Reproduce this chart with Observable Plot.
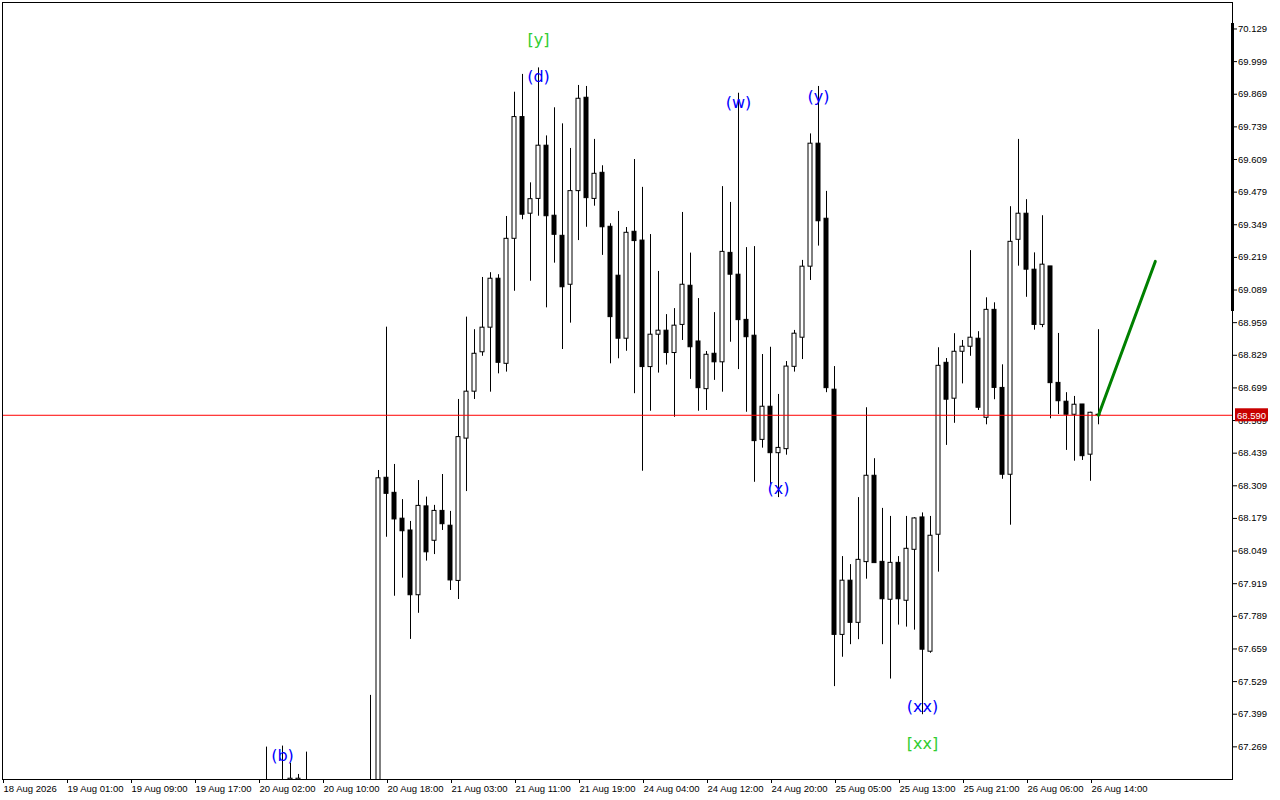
<!DOCTYPE html>
<html><head><meta charset="utf-8">
<script src="https://cdn.jsdelivr.net/npm/d3@7"></script>
<script src="https://cdn.jsdelivr.net/npm/@observablehq/plot@0.6"></script>
<style>html,body{margin:0;padding:0;background:#fff}#chart svg{display:block}</style>
</head><body><div id="chart"></div>
<script>
// Hourly bars (index from 18 Aug 2026 first bar)
const bars = [33,35,36,37,38,46,47,
 48,49,50,51,52,53,54,55,56,57,58,59,60,61,62,63,64,65,66,67,68,69,70,71,72,73,74,75,76,77,78,79,
 80,81,82,83,84,85,86,87,88,89,90,91,92,93,94,95,96,97,98,99,100,101,102,103,104,105,106,107,108,109,
 110,111,112,113,114,115,116,117,118,119,120,121,122,123,124,125,126,127,128,129,130,131,132,133,134,135,136,137];
const opens = [67.05,67.08,67.09,67.10,67.11,67.12,67.10,
 68.341,68.281,68.178,68.131,67.873,68.227,68.090,68.209,68.150,67.930,68.497,68.684,68.841,68.939,69.134,68.795,69.293,69.778,69.393,69.452,69.664,69.385,69.305,69.110,69.483,69.855,69.452,69.556,69.341,69.146,68.895,69.321,
 69.286,68.782,68.911,68.927,68.838,68.950,69.106,68.884,68.694,68.835,68.801,69.237,69.150,68.970,68.907,68.492,68.624,68.439,68.455,68.783,68.899,69.182,69.672,69.373,68.692,67.715,67.931,67.763,68.005,68.349,
 68.006,67.855,68.002,67.851,68.054,68.183,67.648,68.114,68.799,68.656,68.843,68.863,68.895,68.580,69.010,68.699,68.353,69.289,69.393,69.170,68.950,69.183,68.719,68.644,68.592,68.633,68.433,68.592];
const highs = [67.268,67.272,67.203,67.159,67.248,67.474,68.370,
 68.941,68.394,68.254,68.167,68.330,68.264,68.231,68.354,68.207,68.653,68.981,68.931,69.139,69.158,69.150,69.382,69.877,69.948,69.516,69.974,69.703,69.815,69.751,69.653,69.904,69.900,69.689,69.584,69.353,69.402,69.338,69.609,
 69.498,69.310,69.163,68.991,69.015,69.398,69.236,69.055,68.844,68.999,69.501,69.438,69.873,69.258,69.262,68.832,68.861,68.673,68.804,68.928,69.207,69.711,69.900,69.482,68.784,68.027,67.995,68.262,68.620,68.417,
 68.219,68.187,68.027,68.187,68.182,68.201,68.187,68.859,68.816,68.915,68.888,69.246,68.923,69.058,69.038,68.791,69.421,69.689,69.449,69.237,69.385,69.183,68.916,68.680,68.665,68.633,68.602,68.931];
const lows = [66.98,67.00,67.02,67.03,67.04,67.05,67.05,
 68.104,67.869,67.941,67.697,67.801,68.009,68.035,68.131,67.892,67.856,68.286,68.653,68.825,68.682,68.755,68.762,69.084,69.369,69.124,69.383,69.018,69.196,68.852,68.957,69.286,69.339,69.423,69.227,68.795,68.815,68.845,68.676,
 68.367,68.606,68.758,68.790,68.582,68.888,68.733,68.606,68.609,68.729,68.682,68.881,68.772,68.602,68.323,68.459,68.314,68.262,68.431,68.762,68.812,69.127,69.264,68.680,67.509,67.626,67.676,67.696,67.937,68.001,
 67.676,67.539,67.754,67.746,67.734,67.397,67.642,67.965,68.470,68.558,68.715,68.825,68.609,68.552,68.652,68.335,68.152,69.184,69.060,68.929,68.939,68.576,68.593,68.450,68.407,68.410,68.327,68.552];
const closes = [67.10,67.11,67.142,67.142,67.12,67.10,68.339,
 68.277,68.175,68.128,67.873,68.229,68.044,68.209,68.156,67.932,68.503,68.684,68.835,68.939,69.134,68.799,69.293,69.778,69.389,69.451,69.664,69.383,69.309,69.100,69.483,69.851,69.455,69.552,69.339,68.981,68.895,69.317,69.284,
 68.782,68.911,68.927,68.838,68.947,69.110,68.861,68.698,68.831,68.801,69.241,69.150,68.969,68.901,68.487,68.624,68.439,68.460,68.784,68.915,69.182,69.672,69.363,68.698,67.715,67.931,67.763,68.014,68.349,68.001,
 67.857,68.002,67.857,68.058,68.179,67.656,68.110,68.787,68.652,68.843,68.863,68.899,68.620,69.010,68.699,68.353,69.281,69.393,69.170,68.950,69.190,68.718,68.646,68.592,68.632,68.427,68.600,68.590];

const currentPrice = 68.590;

// Price axis ticks
const yTickValues = d3.range(0, 23).map(k => +(67.269 + 0.13 * k).toFixed(3));
// Time axis ticks (bar index -> label)
const xTickBars = [0,8,16,24,32,40,48,56,64,72,80,88,96,104,112,120,128,136];
const xTickLabels = ["18 Aug 2026","19 Aug 01:00","19 Aug 09:00","19 Aug 17:00","20 Aug 02:00","20 Aug 10:00",
 "20 Aug 18:00","21 Aug 03:00","21 Aug 11:00","21 Aug 19:00","24 Aug 04:00","24 Aug 12:00","24 Aug 20:00",
 "25 Aug 05:00","25 Aug 13:00","25 Aug 21:00","26 Aug 06:00","26 Aug 14:00"];

// Wave labels
const waveTexts = ["[y]","(d)","(w)","(y)","(x)","(xx)","[xx]","(b)"];
const waveBars = [67,67,92,102,97,115,115,35];
const wavePrices = [70.087,69.940,69.836,69.860,68.298,67.430,67.282,67.235];
const waveDegree = ["major","minor","minor","minor","minor","minor","major","minor"];

// Forecast line
const forecastBars = [137, 144.1];
const forecastPrices = [68.590, 69.203];

// Price scale range marker
const rangeMarkTop = 70.151, rangeMarkBottom = 69.003;

const candles = bars.map((b, k) => ({i: b, o: opens[k], h: highs[k], l: lows[k], c: closes[k]}));
const waves = waveTexts.map((t, k) => ({t, i: waveBars[k], p: wavePrices[k], deg: waveDegree[k]}));
const forecast = forecastBars.map((b, k) => ({i: b, p: forecastPrices[k]}));
const tickLabel = new Map(xTickBars.map((b, k) => [b, xTickLabels[k]]));

const plot = Plot.plot({
  width: 1280, height: 800,
  marginLeft: 2, marginRight: 48, marginTop: 2, marginBottom: 21,
  style: {background: "#fff", fontFamily: "Liberation Sans, Arial, sans-serif", fontSize: "9.5px", color: "#000"},
  x: {domain: [0, 153.75]},
  y: {domain: [67.1389, 70.2345]},
  marks: [
    Plot.ruleX(candles, {x: "i", y1: "l", y2: "h", stroke: "black", strokeWidth: 1, clip: true}),
    Plot.rect(candles.filter(d => d.c >= d.o), {x1: d => d.i - 0.25, x2: d => d.i + 0.25, y1: "o", y2: "c", fill: "white", stroke: "black", strokeWidth: 1, clip: true}),
    Plot.rect(candles.filter(d => d.c < d.o), {x1: d => d.i - 0.25, x2: d => d.i + 0.25, y1: "o", y2: "c", fill: "black", stroke: "black", strokeWidth: 1, clip: true}),
    Plot.ruleY([currentPrice], {stroke: "#ff0000", strokeWidth: 1}),
    Plot.line(forecast, {x: "i", y: "p", stroke: "#008000", strokeWidth: 3}),
    Plot.text(waves, {x: "i", y: "p", text: "t", fill: d => d.deg === "major" ? "#32cd32" : "#0000ff",
      fontSize: 16, fontFamily: "DejaVu Sans", textAnchor: "middle", lineAnchor: "middle"}),
    Plot.frame({stroke: "black", strokeWidth: 1}),
    Plot.ruleX([153.75], {y1: rangeMarkTop, y2: rangeMarkBottom, stroke: "black", strokeWidth: 3}),
    Plot.axisY(yTickValues, {anchor: "right", tickFormat: d => d.toFixed(3), tickSize: 4, tickPadding: 1.5, label: null, fontSize: 9.5}),
    Plot.axisX(xTickBars, {anchor: "bottom", tickFormat: d => tickLabel.get(d), textAnchor: "start", dx: 1, tickSize: 4, tickPadding: 2, label: null, fontSize: 9.5})
  ]
});
document.getElementById("chart").appendChild(plot);

// current price tag on the price scale
const ys = plot.scale("y").apply(currentPrice);
const svg = d3.select(plot);
svg.append("rect").attr("x", 1235).attr("y", ys - 6.5).attr("width", 33).attr("height", 13).attr("fill", "#c80000");
svg.append("text").attr("x", 1251.5).attr("y", ys + 0.5).attr("text-anchor", "middle").attr("dominant-baseline", "central")
  .attr("fill", "white").attr("font-size", 9.5).attr("font-family", "Liberation Sans, Arial, sans-serif").text(currentPrice.toFixed(3));
</script></body></html>
